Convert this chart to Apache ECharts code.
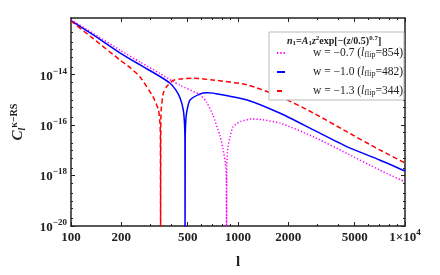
<!DOCTYPE html>
<html><head><meta charset="utf-8">
<script src="https://cdn.jsdelivr.net/npm/echarts@6/dist/echarts.min.js"></script>
<style>html,body{margin:0;padding:0;background:#fff}#c{width:440px;height:275px}</style>
</head><body><div id="c"></div>
<script>
// multipole l and log10(C_l)
const ellMag = [100,136,196,260,341,408,450,594,650,708,781,813,840,851,853,854,855,857,864,874,897,935,1040,1210,1410,1790,2830,4480,7050,10000];
const logMag = [-11.83,-12.36,-13.02,-13.5,-13.95,-14.27,-14.42,-14.8,-15.1,-15.6,-16.43,-16.95,-17.5,-18.0,-18.5,-21,-18.2,-17.6,-17.1,-16.8,-16.46,-16.06,-15.85,-15.75,-15.79,-15.92,-16.46,-17.12,-17.78,-18.25];
const ellBlue = [100,136,196,259,341,391,424,450,470,478,481,482,483,485,490,500,516,594,650,708,1133,1790,2830,4480,7050,10000];
const logBlue = [-11.85,-12.42,-13.13,-13.61,-14.07,-14.33,-14.6,-14.92,-15.38,-15.9,-16.5,-21,-16.5,-16.05,-15.6,-15.28,-15.0,-14.76,-14.71,-14.73,-15.0,-15.53,-16.19,-16.85,-17.38,-17.82];
const ellRed = [100,136,196,225,259,310,334,341,343,344,345,347,357,374,408,450,540,708,1133,1790,2830,4480,7050,10000];
const logRed = [-11.87,-12.57,-13.41,-13.71,-14.09,-14.88,-15.4,-15.92,-16.4,-21,-15.84,-15.36,-14.73,-14.47,-14.23,-14.17,-14.14,-14.21,-14.40,-14.87,-15.52,-16.26,-16.98,-17.5];

const names = ['w = −0.7 (l_flip=854)','w = −1.0 (l_flip=482)','w = −1.3 (l_flip=344)'];
const legendRich = [
  '{g| }{t|w = −0.7 (}{i|l}{s|flip}{t|=854)}',
  '{g| }{t|w = −1.0 (}{i|l}{s|flip}{t|=482)}',
  '{g| }{t|w = −1.3 (}{i|l}{s|flip}{t|=344)}'
];
const xTickLabels = [100,200,500,1000,2000,5000,10000];
const xMinor = [300,400,600,700,800,900,3000,4000,6000,7000,8000,9000];
const yTickLabels = [-20,-18,-16,-14];
const yMin = -20, yMax = -11.75;

const lx = xTickLabels.map(v => Math.log10(v));
const mx = xMinor.map(v => Math.log10(v));
const my = [];
for (let n = -20; n <= -12; n++) {
  if (n % 2 !== 0) my.push(n);
  [2,5].forEach(k => { const v = n + Math.log10(k); if (v < yMax) my.push(v); });
}
const toXY = (e, v) => e.map((l, i) => [Math.log10(l), v[i]]);

const SERIF = 'Liberation Serif';
const axisCol = '#222';
function xAx(pos, major, labels) {
  return {
    type:'value', min:2, max:4, position:pos,
    axisLine:{show:major, onZero:false, lineStyle:{color:axisCol, width:1.5}},
    axisTick:{show:true, inside:true, length: major?4:2, customValues: major?lx:mx, lineStyle:{color:axisCol, width:1}},
    axisLabel: labels ? {
      show:true, customValues: lx, margin:2,
      formatter: v => { const r = Math.round(Math.pow(10, v)); return r === 10000 ? '{b|1×10}{p|4}' : '{b|' + r + '}'; },
      rich:{ b:{fontFamily:SERIF, fontWeight:'bold', fontSize:13, color:axisCol, lineHeight:16, verticalAlign:'bottom'},
             p:{fontFamily:SERIF, fontWeight:'bold', fontSize:9, color:axisCol, verticalAlign:'top', lineHeight:16} }
    } : {show:false},
    splitLine:{show:false},
    name: labels ? 'l' : '', nameLocation:'middle', nameGap:29,
    nameTextStyle:{fontFamily:SERIF, fontWeight:'bold', fontSize:15, color:axisCol}
  };
}
function yAx(pos, major, labels) {
  return {
    type:'value', min:yMin, max:yMax, position:pos,
    axisLine:{show:major, onZero:false, lineStyle:{color:axisCol, width:1.5}},
    axisTick:{show:true, inside:true, length: major?4:2, customValues: major?yTickLabels:my, lineStyle:{color:axisCol, width:1}},
    axisLabel: labels ? {
      show:true, customValues: yTickLabels, margin:4,
      formatter: v => '{b|10}{p|−' + Math.abs(Math.round(v)) + '}',
      rich:{ b:{fontFamily:SERIF, fontWeight:'bold', fontSize:13, color:axisCol, lineHeight:16, verticalAlign:'bottom'},
             p:{fontFamily:SERIF, fontWeight:'bold', fontSize:9, color:axisCol, verticalAlign:'top', lineHeight:16} }
    } : {show:false},
    splitLine:{show:false},
    name: labels ? '{c|C}{u|l}{p|κ−RS}' : '', nameLocation:'middle', nameGap:44, nameRotate:90,
    nameTextStyle:{ rich:{
      c:{fontFamily:SERIF, fontWeight:'bold', fontStyle:'italic', fontSize:15, color:axisCol, lineHeight:18},
      u:{fontFamily:SERIF, fontWeight:'bold', fontStyle:'italic', fontSize:10, color:axisCol, verticalAlign:'bottom', lineHeight:18},
      p:{fontFamily:SERIF, fontWeight:'bold', fontSize:10, color:axisCol, verticalAlign:'top', lineHeight:18} } }
  };
}

const chart = echarts.init(document.getElementById('c'), null, {renderer:'canvas'});
chart.setOption({
  animation:false,
  backgroundColor:'#fff',
  grid:{left:71, right:35, top:18, bottom:49},
  title:{
    text:'{i|n}{s|1}{t|=}{i|A}{s|1}{i|z}{p|2}{t|exp[−(}{i|z}{t|/0.5)}{p|0.7}{t|]}',
    left:287, top:35, padding:0,
    textStyle:{ rich:{
      t:{fontFamily:SERIF, fontSize:10, color:'#222', lineHeight:12},
      i:{fontFamily:SERIF, fontStyle:'italic', fontSize:10, color:'#222', lineHeight:12},
      s:{fontFamily:SERIF, fontSize:7, color:'#222', verticalAlign:'bottom', lineHeight:12},
      p:{fontFamily:SERIF, fontSize:7, color:'#222', verticalAlign:'top', lineHeight:12} } }
  },
  legend:{
    orient:'vertical', left:269, top:32, padding:[15,1,3,7],
    itemWidth:8, itemHeight:12, itemGap:7,
    backgroundColor:'#fff', borderColor:'#bbb', borderWidth:1, borderRadius:0,
    itemStyle:{opacity:0, color:'rgba(0,0,0,0)', borderWidth:0},
    data: names,
    formatter: n => legendRich[names.indexOf(n)],
    textStyle:{ rich:{
      g:{width:23, fontSize:9},
      t:{fontFamily:SERIF, fontSize:11.5, color:'#222', lineHeight:12},
      i:{fontFamily:SERIF, fontStyle:'italic', fontSize:11.5, color:'#222', lineHeight:12},
      s:{fontFamily:SERIF, fontSize:8, color:'#222', verticalAlign:'bottom', lineHeight:12} } }
  },
  xAxis:[xAx('bottom', true, true), xAx('bottom', false, false), xAx('top', true, false), xAx('top', false, false)],
  yAxis:[yAx('left', true, true), yAx('left', false, false), yAx('right', true, false), yAx('right', false, false)],
  series:[
    {name:names[0], type:'line', data:toXY(ellMag, logMag), symbol:'none', smooth:0.2,
     itemStyle:{color:'#ff00ff'}, lineStyle:{color:'#ff00ff', width:1.5, type:[1.3,2]}},
    {name:names[1], type:'line', data:toXY(ellBlue, logBlue), symbol:'none', smooth:0.2,
     itemStyle:{color:'#0000ff'}, lineStyle:{color:'#0000ff', width:1.5, type:'solid'}},
    {name:names[2], type:'line', data:toXY(ellRed, logRed), symbol:'none', smooth:0.2,
     itemStyle:{color:'#ff0000'}, lineStyle:{color:'#ff0000', width:1.5, type:[5,3]}}
  ]
});
</script></body></html>
